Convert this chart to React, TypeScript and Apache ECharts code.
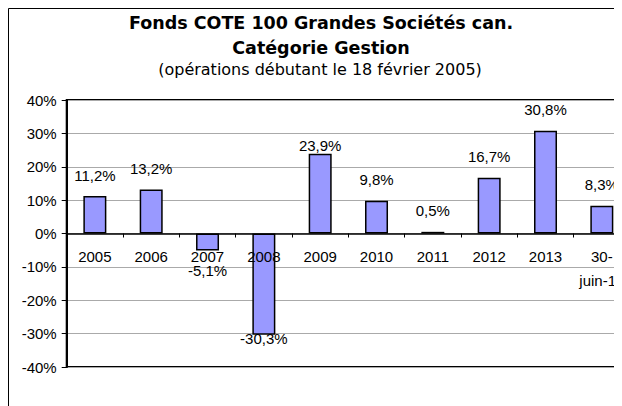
import React, { useEffect, useRef } from "react";
import * as echarts from "echarts";

const categories = ["2005", "2006", "2007", "2008", "2009", "2010", "2011", "2012", "2013", "30-juin-14"];
const returns = [11.2, 13.2, -5.1, -30.3, 23.9, 9.8, 0.5, 16.7, 30.8, 8.3];
const labelDistances = [13.5, 13.5, 12.5, -3.5, 0.5, 13.5, 13.5, 13.5, 13.5, 13.5];
const yTicks = { min: -40, max: 40, interval: 10 };
const titleLines = ["Fonds COTE 100 Grandes Sociétés can.", "Catégorie Gestion"];
const subtitle = "(opérations débutant le 18 février 2005)";

const FONT = "'Liberation Sans', Arial, sans-serif";
const GRID_TOP = 92;
const GRID_BOTTOM = 39;
const CHART_H = 398;

export default function App() {
  const ref = useRef<HTMLDivElement>(null);
  useEffect(() => {
    if (!ref.current) return;
    const chart = echarts.init(ref.current, undefined, { renderer: "svg" });
    const fmt = (v: number) => v.toFixed(1).replace(".", ",") + "%";
    const plotH = CHART_H - GRID_TOP - GRID_BOTTOM;
    const zeroOffset = -plotH * (0 - yTicks.min) / (yTicks.max - yTicks.min);
    chart.setOption({
      animation: false,
      graphic: [
        {
          type: "rect",
          shape: { x: 0.5, y: 0.5, width: 700, height: 500 },
          style: { fill: "none", stroke: "#000", lineWidth: 1 },
          silent: true,
          z: 0,
        },
        {
          type: "text",
          x: 313,
          y: 14.5,
          style: {
            text: titleLines[0],
            font: "bold 17.5px 'DejaVu Sans', sans-serif",
            fill: "#000",
            align: "center",
            verticalAlign: "middle",
          },
        },
        {
          type: "text",
          x: 313,
          y: 39.5,
          style: {
            text: titleLines[1],
            font: "bold 17.5px 'DejaVu Sans', sans-serif",
            fill: "#000",
            align: "center",
            verticalAlign: "middle",
          },
        },
        {
          type: "text",
          x: 312,
          y: 61,
          style: {
            text: subtitle,
            font: "16px 'DejaVu Sans', sans-serif",
            fill: "#000",
            align: "center",
            verticalAlign: "middle",
          },
        },
      ],
      grid: {
        left: 58.7,
        right: -8,
        top: GRID_TOP,
        bottom: GRID_BOTTOM,
        show: true,
        borderColor: "#000",
        borderWidth: 2,
        backgroundColor: "transparent",
        containLabel: false,
        outerBoundsMode: "none",
      },
      xAxis: {
        type: "category",
        data: categories,
        position: "bottom",
        offset: zeroOffset,
        z: 10,
        axisLine: { onZero: false, lineStyle: { color: "#000", width: 1.5 } },
        axisTick: { show: true, length: 4, lineStyle: { color: "#000", width: 1 } },
        axisLabel: {
          interval: 0,
          margin: 11,
          fontFamily: FONT,
          fontSize: 15,
          color: "#000",
          lineHeight: 24,
          hideOverlap: false,
          formatter: (v: string) => v.replace("30-", "30-\n"),
        },
        splitLine: { show: false },
      },
      yAxis: {
        type: "value",
        min: yTicks.min,
        max: yTicks.max,
        interval: yTicks.interval,
        axisLine: { show: true, lineStyle: { color: "#000", width: 2 } },
        axisTick: { show: true, length: 5, lineStyle: { color: "#000" } },
        axisLabel: {
          margin: 10,
          fontFamily: FONT,
          fontSize: 15,
          color: "#000",
          formatter: "{value}%",
        },
        splitLine: { show: true, lineStyle: { color: "#aaaaaa", width: 1 } },
      },
      series: [
        {
          type: "bar",
          barWidth: 23,
          data: returns.map((v, i) => ({
            value: v,
            label: {
              position: v >= 0 ? "top" : "bottom",
              distance: labelDistances[i],
            },
          })),
          itemStyle: { color: "#9999FF", borderColor: "#000", borderWidth: 1.5 },
          label: {
            show: true,
            fontFamily: FONT,
            fontSize: 15,
            color: "#000",
            formatter: (p: any) => fmt(p.value),
          },
        },
      ],
    });
    return () => chart.dispose();
  }, []);
  return <div ref={ref} style={{ width: 614, height: CHART_H }} />;
}
